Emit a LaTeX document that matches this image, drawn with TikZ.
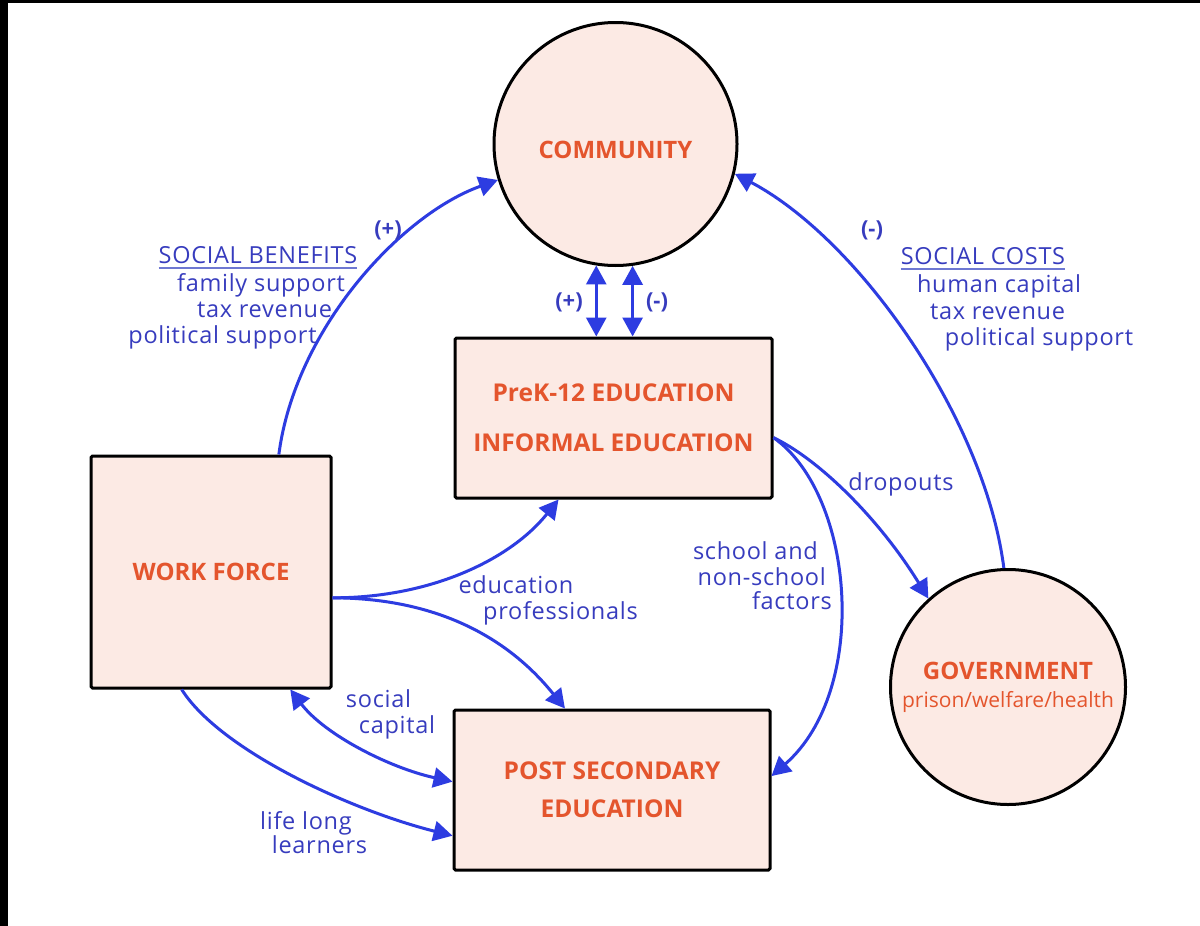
\documentclass[tikz,border=0pt]{standalone}
\usepackage{fontspec}
\setmainfont{Open Sans}
\newfontfamily\lblfont[LetterSpace=3]{Open Sans}
\usetikzlibrary{arrows.meta}
\definecolor{arrowblue}{RGB}{45,60,225}
\definecolor{textblue}{RGB}{55,60,190}
\definecolor{ulblue}{RGB}{110,120,210}
\definecolor{orangetxt}{RGB}{228,85,45}
\definecolor{boxfill}{RGB}{252,234,228}
\begin{document}
\begin{tikzpicture}[x=1pt,y=-1pt,
  box/.style={draw=black, line width=3pt, fill=boxfill, rounded corners=1.5pt, inner sep=0pt,
    text=orangetxt, align=center},
  circ/.style={circle, draw=black, line width=3pt, fill=boxfill, inner sep=0pt,
    text=orangetxt, align=center},
  flow/.style={draw=arrowblue, line width=3pt, -{Triangle[length=19pt,width=20pt]}},
  both/.style={draw=arrowblue, line width=3pt, {Triangle[length=19pt,width=20pt]}-{Triangle[length=19pt,width=20pt]}},
  lbl/.style={text=textblue, font=\lblfont\fontsize{23.5}{26}\selectfont, inner sep=0pt, anchor=base},
  sign/.style={text=textblue, font=\fontsize{22}{26}\selectfont\bfseries, inner sep=0pt, anchor=base}
]
\useasboundingbox (0,0) rectangle (1200,926);
\fill[white] (0,0) rectangle (1200,926);
\fill[black] (0,0) rectangle (8,926);
\fill[black] (0,0) rectangle (1200,3);

% nodes
\node[circ, minimum size=243pt, font=\fontsize{24}{26}\selectfont\bfseries, text height=28pt, text depth=0pt] (com) at (615.5,144) {COMMUNITY};
\node[circ, minimum size=235pt, font=\fontsize{24}{28}\selectfont] (gov) at (1008,687)
  {{\bfseries GOVERNMENT}\\{\fontsize{21}{26}\selectfont prison/welfare/health}};
\node[box, minimum width=317pt, minimum height=160pt, font=\fontsize{24.5}{50}\selectfont\bfseries] (prek) at (613.5,418)
  {PreK-12 EDUCATION\\INFORMAL EDUCATION};
\node[box, minimum width=240pt, minimum height=232pt, font=\fontsize{24}{38}\selectfont\bfseries] (wf) at (211,572) {WORK FORCE};
\node[box, minimum width=316pt, minimum height=160pt, font=\fontsize{24.5}{38}\selectfont\bfseries] (post) at (612,790)
  {POST SECONDARY\\EDUCATION};

% connectors
\draw[flow] (wf.60.7) .. controls (295,330) and (400,215) .. (com.197);
\draw[flow] (gov.92) .. controls (985,420) and (860,240) .. (com.-14);
\draw[both] (com.261) -- (com.261 |- prek.north);
\draw[both] (com.278) -- (com.278 |- prek.north);
\draw[flow] (wf.-12.2) .. controls (430,598) and (510,560) .. (prek.236);
\draw[flow] (wf.-12.2) .. controls (440,598) and (510,640) .. (post.120);
\draw[both] (wf.-56) .. controls (325,735) and (390,768) .. (post.177);
\draw[flow] (wf.256) .. controls (220,750) and (350,810) .. (post.196);
\draw[flow] (prek.-7) .. controls (855,495) and (870,690) .. (post.5);
\draw[flow] (prek.-7) .. controls (820,460) and (880,520) .. (gov.132);

% labels
\node[sign] (pl1) at (388,236) {(+)};
\node[sign] (mi1) at (872,236) {(-)};
\node[sign] (pl2) at (569,308) {(+)};
\node[sign] (mi2) at (657,308) {(-)};

\node[lbl] (sb) at (258,263) {SOCIAL BENEFITS};
\draw[ulblue, line width=1.5pt] ([yshift=-5pt]sb.base west) -- ([yshift=-5pt]sb.base east);
\node[lbl] (sb1) at (261,291) {family support};
\node[lbl] (sb2) at (264.5,317) {tax revenue};
\node[lbl] (sb3) at (222.5,343) {political support};

\node[lbl] (sc) at (983,264) {SOCIAL COSTS};
\draw[ulblue, line width=1.5pt] ([yshift=-5pt]sc.base west) -- ([yshift=-5pt]sc.base east);
\node[lbl] (sc1) at (999,292) {human capital};
\node[lbl] (sc2) at (997.5,319) {tax revenue};
\node[lbl] (sc3) at (1039,345) {political support};

\node[lbl] (drop) at (901,490) {dropouts};
\node[lbl] (ed1) at (516,593) {education};
\node[lbl] (ed2) at (560.5,619) {professionals};
\node[lbl, anchor=base east] (sf1) at (818,559) {school and};
\node[lbl, anchor=base east] (sf2) at (826,585) {non-school};
\node[lbl, anchor=base east] (sf3) at (832,609) {factors};
\node[lbl] (so1) at (378.5,707) {social};
\node[lbl] (so2) at (397,733) {capital};
\node[lbl] (ll1) at (306,829) {life long};
\node[lbl] (ll2) at (319.5,853) {learners};
\end{tikzpicture}
\end{document}
